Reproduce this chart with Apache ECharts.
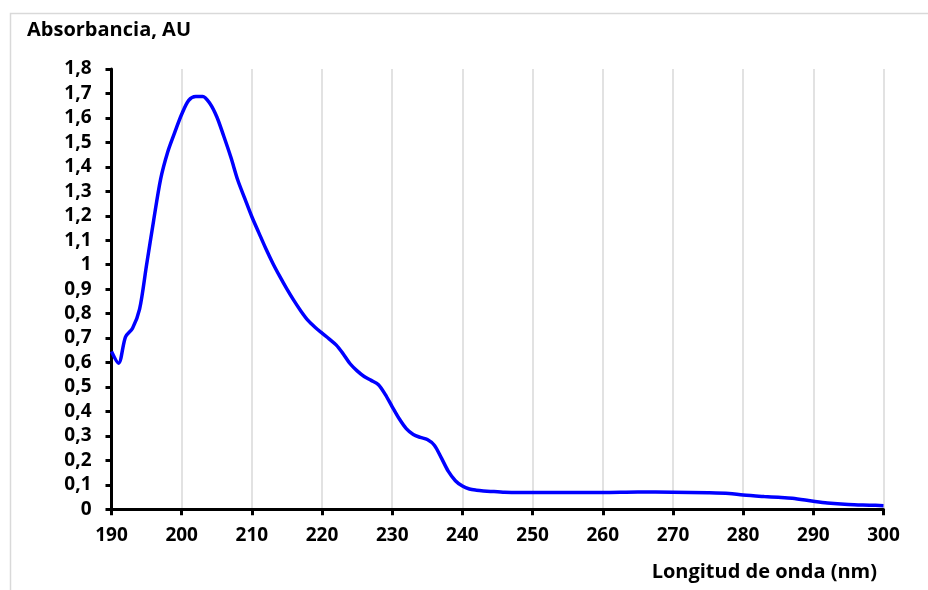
<!DOCTYPE html>
<html>
<head>
<meta charset="utf-8">
<script src="https://cdn.jsdelivr.net/npm/echarts@6/dist/echarts.min.js"></script>
<style>
  html, body { margin: 0; padding: 0; background: #fff; }
  #chart { width: 928px; height: 590px; }
</style>
</head>
<body>
<div id="chart"></div>
<script>
// UV absorption spectrum: wavelength (nm) against absorbance (AU)
const wavelengths = [
  190, 191, 192, 193, 194, 195, 196, 197, 198, 199,
  200, 201, 202, 203, 204, 205, 206, 207, 208, 209,
  210, 211, 212, 213, 214, 215, 216, 217, 218, 219,
  220, 221, 222, 223, 224, 225, 226, 227, 228, 229,
  230, 231, 232, 233, 234, 235, 236, 237, 238, 239,
  240, 241, 242, 243, 244, 245, 246, 248, 250, 255,
  260, 265, 270, 275, 278, 280, 283, 285, 287, 290,
  292, 295, 298, 300
];
const absorbance = [
  0.645, 0.597, 0.705, 0.740, 0.818, 1.000, 1.180, 1.350, 1.460, 1.540,
  1.615, 1.672, 1.688, 1.688, 1.660, 1.605, 1.525, 1.440, 1.345, 1.270,
  1.196, 1.130, 1.065, 1.005, 0.951, 0.900, 0.853, 0.810, 0.772, 0.744,
  0.720, 0.697, 0.672, 0.636, 0.595, 0.566, 0.543, 0.527, 0.510, 0.470,
  0.419, 0.370, 0.330, 0.306, 0.294, 0.285, 0.262, 0.210, 0.155, 0.117,
  0.095, 0.083, 0.078, 0.075, 0.073, 0.072, 0.070, 0.069, 0.069, 0.069,
  0.069, 0.071, 0.070, 0.068, 0.065, 0.058, 0.052, 0.049, 0.045, 0.033,
  0.026, 0.020, 0.017, 0.015
];

const xTitle = 'Longitud de onda (nm)';
const yTitle = 'Absorbancia, AU';

const points = wavelengths.map((w, i) => [w, absorbance[i]]);
const labelFont = '"Open Sans", Lato, sans-serif';

const chart = echarts.init(document.getElementById('chart'), null, { renderer: 'canvas' });
chart.setOption({
  animation: false,
  backgroundColor: '#ffffff',
  grid: { left: 111.5, right: 44.5, top: 69, bottom: 80.7, containLabel: false },
  xAxis: {
    type: 'value',
    min: 190, max: 300, interval: 10,
    axisLine: { show: true, onZero: false, lineStyle: { color: '#000', width: 3 } },
    axisTick: { show: true, inside: false, length: 6, lineStyle: { color: '#000', width: 3 } },
    axisLabel: { margin: 17, color: '#000', fontFamily: labelFont, fontWeight: 'bold', fontSize: 19 },
    splitLine: { show: true, lineStyle: { color: '#d9d9d9', width: 1.5 } }
  },
  yAxis: {
    type: 'value',
    min: 0, max: 1.8, interval: 0.1,
    axisLine: { show: true, lineStyle: { color: '#000', width: 3 } },
    axisTick: { show: true, inside: false, length: 6, lineStyle: { color: '#000', width: 3 } },
    axisLabel: {
      margin: 20, color: '#000', fontFamily: labelFont, fontWeight: 'bold', fontSize: 19,
      formatter: v => String(Math.round(v * 10) / 10).replace('.', ',')
    },
    splitLine: { show: false }
  },
  graphic: [
    { type: 'rect', left: 8, top: 11, shape: { width: 940, height: 600 },
      style: { fill: 'none', stroke: '#d9d9d9', lineWidth: 1.5 }, silent: true, z: -1 },
    { type: 'text', left: 27, top: 20,
      style: { text: yTitle, fill: '#000', font: 'bold 20px ' + labelFont } },
    { type: 'text', right: 51, top: 562,
      style: { text: xTitle, fill: '#000', font: 'bold 20px ' + labelFont } }
  ],
  series: [{
    type: 'line',
    data: points,
    showSymbol: false,
    smooth: 0.3,
    lineStyle: { color: '#0000ff', width: 3.5 },
    z: 5
  }]
});
</script>
</body>
</html>
